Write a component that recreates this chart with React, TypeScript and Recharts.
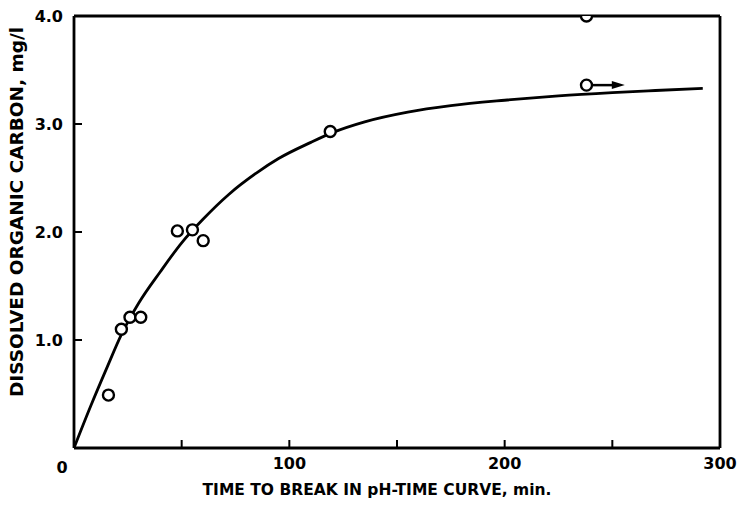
import React from 'react';
import { ComposedChart, Line, Scatter, XAxis, YAxis, Label } from 'recharts';

// axis ticks
const timeTicks = [0, 50, 100, 150, 200, 250, 300];
const timeLabels = [0, 100, 200, 300];
const carbonTicks = [0, 1, 2, 3, 4];
const carbonMax = 4;

// measured points (open circles)
const measuredTime = [16, 22, 26, 31, 48, 55, 60, 119, 238, 238];
const measuredCarbon = [0.49, 1.1, 1.21, 1.21, 2.01, 2.02, 1.92, 2.93, 3.36, 4.0];

// fitted curve
const curveTime = [0, 8, 15, 22, 30, 40, 50, 60, 72, 85, 95, 110, 120, 135, 155, 175, 200, 225, 250, 270, 292];
const curveCarbon = [0, 0.4, 0.73, 1.05, 1.34, 1.63, 1.9, 2.12, 2.35, 2.55, 2.68, 2.83, 2.92, 3.02, 3.11, 3.17, 3.22, 3.26, 3.29, 3.31, 3.33];

// arrow beside the 3.36 point
const arrowTime = [238, 250];
const arrowCarbon = [3.36, 3.36];
const arrowHeadTime = [253];
const arrowHeadCarbon = [3.36];

const pointData = measuredTime.map((t, i) => ({ t, c: measuredCarbon[i] }));
const curveData = curveTime.map((t, i) => ({ t, c: curveCarbon[i] }));
const arrowData = arrowTime.map((t, i) => ({ t, c: arrowCarbon[i] }));
const headData = arrowHeadTime.map((t, i) => ({ t, c: arrowHeadCarbon[i] }));

const font = '"DejaVu Sans", sans-serif';
const ink = '#000';

const TimeTick = (props: any) => {
  const { x, y, payload } = props;
  const v = payload.value;
  if (!timeLabels.includes(v)) return null;
  return (
    <text x={v === 0 ? x - 12 : x} y={v === 0 ? y + 25 : y + 21} textAnchor="middle"
      fontFamily={font} fontSize={16} fontWeight="bold" fill={ink}>
      {v}
    </text>
  );
};

const CarbonTick = (props: any) => {
  const { x, y, payload } = props;
  const v = payload.value;
  if (v === 0) return null;
  return (
    <text x={x - 11} y={y + 6} textAnchor="end" fontFamily={font} fontSize={16} fontWeight="bold" fill={ink}>
      {v.toFixed(1)}
    </text>
  );
};

// open circle; one sitting on the top frame shows only its lower half
const OpenCircle = (props: any) => {
  const { cx, cy, payload } = props;
  const r = 5.5;
  if (payload && payload.c >= carbonMax) {
    return (
      <path d={`M ${cx - r} ${cy} A ${r} ${r} 0 0 0 ${cx + r} ${cy}`} fill="#fff" stroke={ink} strokeWidth={2.4} />
    );
  }
  return <circle cx={cx} cy={cy} r={r} fill="#fff" stroke={ink} strokeWidth={2.4} />;
};

const ArrowHead = (props: any) => {
  const { cx, cy } = props;
  return <polygon points={`${cx - 7},${cy - 4} ${cx + 6},${cy} ${cx - 7},${cy + 4}`} fill={ink} />;
};

const axisLine = { stroke: ink, strokeWidth: 2.8 };
const tickLine = { stroke: ink, strokeWidth: 2 };

export default function App() {
  return (
    <div style={{ position: 'absolute', left: 0, top: 0, width: 745, height: 505, background: '#fff' }}>
      <ComposedChart width={745} height={505} margin={{ top: 15, right: 24, bottom: 56, left: 73 }}>
        <XAxis
          xAxisId="b"
          dataKey="t"
          type="number"
          domain={[0, 300]}
          ticks={timeTicks}
          allowDataOverflow
          height={1}
          axisLine={axisLine}
          tickLine={tickLine}
          tickSize={-8}
          tickMargin={8}
          tick={<TimeTick />}
          interval={0}
        >
          <Label
            content={() => (
              <text x={377} y={495} textAnchor="middle" fontFamily={font} fontSize={15.5} fontWeight="bold" fill={ink}>
                TIME TO BREAK IN pH-TIME CURVE, min.
              </text>
            )}
          />
        </XAxis>
        <XAxis
          xAxisId="t"
          orientation="top"
          dataKey="t"
          type="number"
          domain={[0, 300]}
          ticks={timeTicks}
          allowDataOverflow
          height={1}
          axisLine={axisLine}
          tickLine={tickLine}
          tickSize={-8}
          tick={false}
          interval={0}
        />
        <YAxis
          yAxisId="l"
          dataKey="c"
          type="number"
          domain={[0, 4]}
          ticks={carbonTicks}
          allowDataOverflow
          width={1}
          axisLine={axisLine}
          tickLine={tickLine}
          tickSize={-8}
          tickMargin={8}
          tick={<CarbonTick />}
          interval={0}
        >
          <Label
            content={() => (
              <text x={23} y={212} transform="rotate(-90 23 212)" textAnchor="middle"
                fontFamily={font} fontSize={18.5} fontWeight="bold" fill={ink}>
                DISSOLVED ORGANIC CARBON, mg/l
              </text>
            )}
          />
        </YAxis>
        <YAxis
          yAxisId="r"
          orientation="right"
          dataKey="c"
          type="number"
          domain={[0, 4]}
          ticks={carbonTicks}
          allowDataOverflow
          width={1}
          axisLine={axisLine}
          tickLine={tickLine}
          tickSize={-8}
          tick={false}
          interval={0}
        />
        <Line
          xAxisId="b"
          yAxisId="l"
          data={curveData}
          dataKey="c"
          type="monotone"
          stroke={ink}
          strokeWidth={2.8}
          dot={false}
          activeDot={false}
          isAnimationActive={false}
        />
        <Line
          xAxisId="b"
          yAxisId="l"
          data={arrowData}
          dataKey="c"
          type="linear"
          stroke={ink}
          strokeWidth={2.5}
          dot={false}
          activeDot={false}
          isAnimationActive={false}
        />
        <Scatter
          xAxisId="b"
          yAxisId="l"
          data={headData}
          dataKey="c"
          shape={<ArrowHead />}
          isAnimationActive={false}
        />
        <Scatter
          xAxisId="b"
          yAxisId="l"
          data={pointData}
          dataKey="c"
          shape={<OpenCircle />}
          isAnimationActive={false}
        />
      </ComposedChart>
    </div>
  );
}
